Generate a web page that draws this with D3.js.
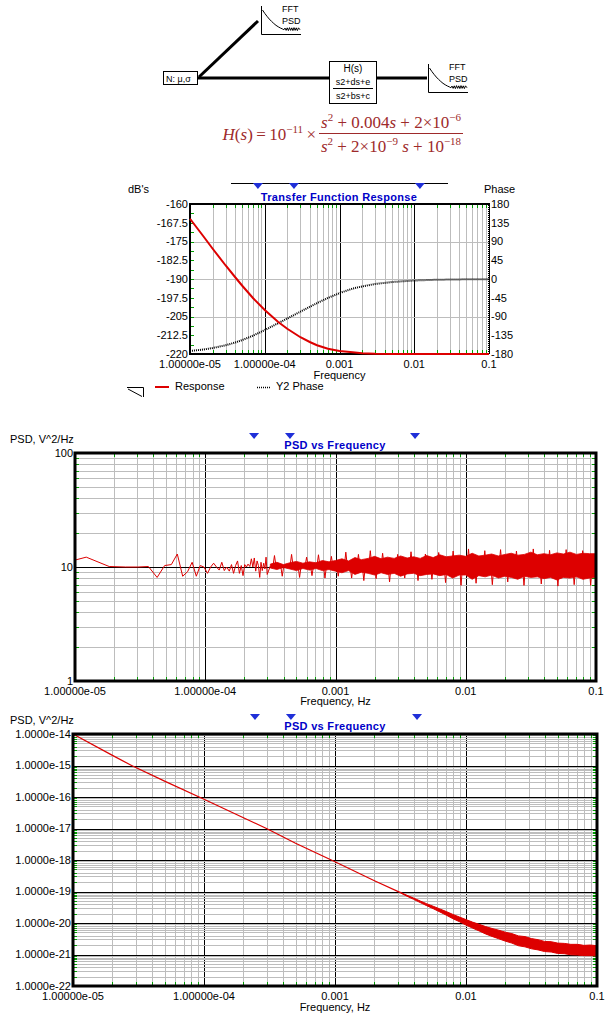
<!DOCTYPE html>
<html>
<head>
<meta charset="utf-8">
<script src="https://cdn.jsdelivr.net/npm/d3@7"></script>
<style>
body { margin: 0; background: #fff; }
svg text { font-family: "Liberation Sans", Arial, sans-serif; }
</style>
</head>
<body>
<svg id="chart" width="611" height="1018"></svg>
<script>
// ---------- data ----------
// transfer function response (top chart)
const tfFreq = [1e-5, 1.5e-5, 2e-5, 3e-5, 4e-5, 5e-5, 7e-5, 1e-4, 1.5e-4, 2e-4, 3e-4, 4e-4,
                5e-4, 7e-4, 1e-3, 1.5e-3, 2e-3, 3e-3, 5e-3, 1e-2, 2e-2, 5e-2, 1e-1];
const tfResponseDb = [-165.9, -172.8, -177.8, -184.6, -189.2, -192.7, -197.7, -202.4, -207.1, -209.9,
                      -213.3, -215.2, -216.5, -217.9, -218.8, -219.3, -219.7, -219.9, -220, -220, -220, -220, -220];
const tfPhaseDeg = [-172.8, -169.3, -165.8, -159.0, -152.6, -146.5, -135.8, -122.6, -106.4, -94.8,
                    -78.4, -66.8, -57.9, -45.4, -33.8, -23.0, -17.9, -12.0, -7.3, -3.6, -1.8, -0.7, -0.4];
const tfCursorFreq = [8.1e-5, 2.46e-4, 1.19e-2];
const dbTicks = [-160, -167.5, -175, -182.5, -190, -197.5, -205, -212.5, -220];
const phaseTicks = [180, 135, 90, 45, 0, -45, -90, -135, -180];

const freqTicks = [1e-5, 1e-4, 1e-3, 1e-2, 1e-1];
const freqTickLabels = ["1.00000e-05", "1.00000e-04", "0.001", "0.01", "0.1"];

// input noise PSD (middle chart)
const psdInFreq = [1.00e-5, 1.22e-5, 1.83e-5, 2.44e-5, 3.05e-5, 3.66e-5, 4.27e-5, 4.88e-5, 5.49e-5, 6.10e-5,
                   6.71e-5, 7.32e-5, 7.93e-5, 8.54e-5, 9.15e-5, 9.76e-5,
                   1.04e-4, 1.10e-4, 1.16e-4, 1.22e-4, 1.28e-4, 1.34e-4, 1.40e-4, 1.46e-4, 1.53e-4, 1.59e-4,
                   1.65e-4, 1.71e-4, 1.77e-4, 1.83e-4, 1.89e-4, 1.95e-4, 2.01e-4, 2.07e-4, 2.13e-4, 2.20e-4,
                   2.26e-4, 2.32e-4, 2.38e-4, 2.44e-4, 2.50e-4, 2.56e-4, 2.62e-4, 2.68e-4, 2.74e-4, 2.81e-4,
                   2.87e-4, 2.93e-4, 2.99e-4];
const psdInVal = [11.5, 12.2, 10.1, 10.0, 10.0, 10.1, 8.1, 10.3, 10.5, 13.0, 8.3, 9.1, 11.0, 8.3, 10.3, 10.0,
                  8.8, 10.0, 10.8, 10.0, 9.4, 11.0, 9.3, 10.0, 9.2, 10.5,
                  8.8, 10.3, 11.3, 8.8, 10.3, 8.4, 10.5, 10.0, 10.6, 10.1,
                  11.8, 10.0, 12.0, 9.2, 11.3, 10.3, 8.1, 11.0, 9.3, 10.8,
                  9.6, 12.2, 8.6];
const psdBandFreq = [3.16e-4, 3.55e-4, 3.98e-4, 4.47e-4, 5.01e-4, 5.62e-4, 6.31e-4, 7.08e-4, 7.94e-4, 8.91e-4,
                     1.0e-3, 1.12e-3, 1.26e-3, 1.41e-3, 1.58e-3, 1.78e-3, 2.0e-3, 2.24e-3, 2.51e-3, 2.82e-3,
                     3.16e-3, 3.55e-3, 3.98e-3, 4.47e-3, 5.01e-3, 5.62e-3, 6.31e-3, 7.08e-3, 7.94e-3, 8.91e-3,
                     1.0e-2, 1.12e-2, 1.26e-2, 1.41e-2, 1.58e-2, 1.78e-2, 2.0e-2, 2.24e-2, 2.51e-2, 2.82e-2,
                     3.16e-2, 3.55e-2, 3.98e-2, 4.47e-2, 5.01e-2, 5.62e-2, 6.31e-2, 7.08e-2, 7.94e-2, 8.91e-2,
                     1.0e-1];
const psdBandHi = [10.6, 11.0, 10.5, 10.9, 11.2, 10.8, 11.1, 10.9, 11.4, 11.1,
                   11.4, 11.8, 11.3, 12.1, 11.6, 11.9, 12.4, 11.8, 12.2, 11.9,
                   12.5, 12.0, 12.3, 11.9, 12.6, 12.1, 12.8, 12.3, 12.5, 12.7,
                   12.4, 13.2, 12.5, 12.7, 13.0, 12.5, 12.9, 13.2, 12.7, 12.9,
                   13.5, 12.8, 13.1, 12.8, 13.3, 13.0, 13.5, 12.9, 13.2, 13.1,
                   13.1];
const psdBandLo = [9.8, 9.5, 9.9, 9.6, 9.3, 9.7, 9.4, 9.7, 9.3, 9.5,
                   9.2, 8.9, 9.3, 8.6, 9.0, 8.8, 8.5, 8.9, 8.6, 8.8,
                   8.3, 8.7, 8.8, 8.4, 8.6, 8.7, 8.4, 8.6, 8.0, 8.5,
                   8.5, 7.8, 8.4, 8.2, 8.5, 8.0, 8.3, 8.1, 7.8, 8.3,
                   8.1, 8.2, 7.9, 8.1, 7.7, 8.1, 8.0, 8.2, 7.8, 8.0,
                   8.1];
const psdSpikeFreq = [3.4e-4, 3.9e-4, 4.6e-4, 5.3e-4, 6.0e-4, 6.6e-4, 7.4e-4, 8.3e-4, 9.3e-4,
                      1.05e-3, 1.2e-3, 1.33e-3, 1.5e-3, 1.65e-3, 1.85e-3, 2.05e-3, 2.3e-3, 2.6e-3, 3.0e-3,
                      3.4e-3, 3.8e-3, 4.3e-3, 4.9e-3, 5.5e-3, 6.2e-3, 7.0e-3, 8.0e-3, 9.2e-3,
                      1.05e-2, 1.2e-2, 1.4e-2, 1.6e-2, 1.85e-2, 2.1e-2, 2.45e-2, 2.8e-2, 3.3e-2, 3.8e-2,
                      4.4e-2, 5.1e-2, 5.9e-2, 6.8e-2, 7.9e-2, 9.1e-2];
const psdSpikeVal = [12.6, 8.3, 12.9, 8.1, 12.2, 8.4, 12.8, 8.0, 12.4,
                     8.3, 13.5, 8.0, 12.9, 7.6, 13.9, 7.9, 13.2, 7.4, 12.9,
                     8.0, 13.6, 7.6, 13.0, 7.8, 13.4, 7.3, 13.8, 6.9,
                     14.4, 7.2, 13.9, 7.0, 14.2, 7.4, 13.8, 6.9, 14.4, 7.1,
                     14.0, 6.8, 14.2, 7.0, 13.9, 6.9];
const psdInCursorFreq = [2.37e-4, 4.47e-4, 4.08e-3];
const psdInTicks = [100, 10, 1];
const psdInTickLabels = ["100", "10", "1"];

// filtered output PSD (bottom chart)
const psdOutFreq = [1e-5, 2e-5, 2.8e-5, 5e-5, 1e-4, 2e-4, 3e-4, 5e-4, 1e-3, 2e-3, 3.16e-3];
const psdOutVal = [1e-14, 2.1e-15, 1e-15, 3.2e-16, 8.5e-17, 2.2e-17, 1e-17, 3.4e-18, 8.8e-19, 2.2e-19, 9.2e-20];
const psdOutBandFreq = [3.16e-3, 3.55e-3, 3.98e-3, 4.47e-3, 5.01e-3, 5.62e-3, 6.31e-3, 7.08e-3, 7.94e-3, 8.91e-3,
                        1.0e-2, 1.12e-2, 1.26e-2, 1.41e-2, 1.58e-2, 1.78e-2, 2.0e-2, 2.24e-2, 2.51e-2, 2.82e-2,
                        3.16e-2, 3.55e-2, 3.98e-2, 4.47e-2, 5.01e-2, 5.62e-2, 6.31e-2, 7.08e-2, 7.94e-2, 8.91e-2,
                        1.0e-1];
const psdOutHi = [9.4e-20, 7.55e-20, 6.2e-20, 5.0e-20, 4.1e-20, 3.4e-20, 2.8e-20, 2.3e-20, 1.87e-20, 1.55e-20,
                  1.28e-20, 1.07e-20, 9.1e-21, 7.7e-21, 6.7e-21, 5.9e-21, 5.1e-21, 4.6e-21, 3.9e-21, 3.7e-21,
                  3.2e-21, 2.95e-21, 2.6e-21, 2.55e-21, 2.3e-21, 2.25e-21, 2.1e-21, 2.1e-21, 1.95e-21, 2.0e-21,
                  1.9e-21];
const psdOutLo = [9.0e-20, 7.05e-20, 5.65e-20, 4.45e-20, 3.55e-20, 2.85e-20, 2.25e-20, 1.77e-20, 1.37e-20, 1.1e-20,
                  8.6e-21, 6.9e-21, 5.6e-21, 4.5e-21, 3.75e-21, 3.15e-21, 2.65e-21, 2.3e-21, 1.9e-21, 1.75e-21,
                  1.52e-21, 1.4e-21, 1.24e-21, 1.2e-21, 1.08e-21, 1.06e-21, 0.98e-21, 0.96e-21, 0.92e-21, 0.92e-21,
                  0.89e-21];
const psdOutCursorFreq = [2.45e-4, 4.61e-4, 4.23e-3];
const psdOutTicks = [1e-14, 1e-15, 1e-16, 1e-17, 1e-18, 1e-19, 1e-20, 1e-21, 1e-22];
const psdOutTickLabels = ["1.0000e-14", "1.0000e-15", "1.0000e-16", "1.0000e-17", "1.0000e-18",
                          "1.0000e-19", "1.0000e-20", "1.0000e-21", "1.0000e-22"];

// little FFT-PSD glyph in the block diagram
const iconT = [0, 0.06, 0.12, 0.18, 0.24, 0.30, 0.36, 0.42, 0.48, 0.53, 0.57, 0.6, 0.63, 0.66, 0.69, 0.72,
               0.75, 0.78, 0.81, 0.84, 0.87, 0.9, 0.93, 0.96, 1.0];
const iconV = [1.0, 0.84, 0.7, 0.57, 0.46, 0.36, 0.27, 0.2, 0.14, 0.1, 0.06, 0.14, 0.03, 0.15, 0.02, 0.16,
               0.03, 0.15, 0.02, 0.16, 0.03, 0.15, 0.02, 0.15, 0.06];

// ---------- drawing ----------
const RED = "#dd0000", GRAY = "#bdbdbd", GREEN = "#00a000", BLUE = "#1f2fd8", TBLUE = "#0000c8";
const svg = d3.select("#chart");
svg.append("rect").attr("width", 611).attr("height", 1018).attr("fill", "#fff");

function isDecade(v) { const l = Math.log10(v); return Math.abs(l - Math.round(l)) < 1e-6; }
function px(v) { return Math.round(v) + 0.5; }

function vLogGrid(g, x, b) {
    const t = x.ticks();
    g.selectAll(null).data(t.filter(d => !isDecade(d))).enter()
        .append("line")
            .attr("x1", d => px(x(d))).attr("x2", d => px(x(d)))
            .attr("y1", b.top).attr("y2", b.bottom)
            .attr("stroke", GRAY);
    g.selectAll(null).data(t.filter(d => isDecade(d))).enter()
        .append("line")
            .attr("x1", d => px(x(d))).attr("x2", d => px(x(d)))
            .attr("y1", b.top).attr("y2", b.bottom)
            .attr("stroke", "#000");
}
function hLogGrid(g, y, b) {
    const t = y.ticks();
    g.selectAll(null).data(t.filter(d => !isDecade(d))).enter()
        .append("line")
            .attr("y1", d => px(y(d))).attr("y2", d => px(y(d)))
            .attr("x1", b.left).attr("x2", b.right)
            .attr("stroke", GRAY);
    g.selectAll(null).data(t.filter(d => isDecade(d))).enter()
        .append("line")
            .attr("y1", d => px(y(d))).attr("y2", d => px(y(d)))
            .attr("x1", b.left).attr("x2", b.right)
            .attr("stroke", "#000");
}
function greenX(g, x, b) {
    const t = x.ticks().filter(d => !isDecade(d));
    [[b.top, 4], [b.bottom, -4]].forEach(([y0, l]) => {
        g.selectAll(null).data(t).enter()
            .append("line")
                .attr("x1", d => px(x(d))).attr("x2", d => px(x(d)))
                .attr("y1", y0).attr("y2", y0 + l)
                .attr("stroke", GREEN);
    });
}
function greenY(g, vals, y, b, sides) {
    sides.forEach(([x0, l]) => {
        g.selectAll(null).data(vals).enter()
            .append("line")
                .attr("y1", d => px(y(d))).attr("y2", d => px(y(d)))
                .attr("x1", x0).attr("x2", x0 + l)
                .attr("stroke", GREEN);
    });
}
function cursors(g, x, freqs, top) {
    g.selectAll(null).data(freqs).enter()
        .append("path")
            .attr("d", d => `M${x(d) - 5},${top} L${x(d) + 5},${top} L${x(d)},${top + 6} Z`)
            .attr("fill", BLUE);
}
function xLabels(g, x, y0, label, labelY) {
    g.selectAll(null).data(freqTicks).enter()
        .append("text")
            .attr("x", d => x(d)).attr("y", y0)
            .attr("text-anchor", "middle").attr("font-size", 11)
            .text((d, i) => freqTickLabels[i]);
    g.append("text").attr("x", (x.range()[0] + x.range()[1]) / 2).attr("y", labelY)
        .attr("text-anchor", "middle").attr("font-size", 11).text(label);
}
function title(g, cx, y, txt) {
    g.append("text").attr("x", cx).attr("y", y).attr("text-anchor", "middle")
        .attr("font-size", 11).attr("font-weight", "bold").attr("fill", TBLUE)
        .attr("letter-spacing", 0.3).text(txt);
}

// ---- block diagram ----
const dg = svg.append("g");
dg.append("line").attr("x1", 198).attr("y1", 78).attr("x2", 330).attr("y2", 78).attr("stroke", "#000").attr("stroke-width", 3);
dg.append("line").attr("x1", 376).attr("y1", 78).attr("x2", 427).attr("y2", 78).attr("stroke", "#000").attr("stroke-width", 3);
dg.append("line").attr("x1", 199).attr("y1", 77).attr("x2", 258).attr("y2", 21).attr("stroke", "#000").attr("stroke-width", 3);
dg.append("rect").attr("x", 163.5).attr("y", 71.5).attr("width", 34).attr("height", 13)
    .attr("fill", "#fff").attr("stroke", "#000");
dg.append("text").attr("x", 166).attr("y", 81.5).attr("font-size", 9).text("N: μ,σ");
dg.append("rect").attr("x", 329.5).attr("y", 61.5).attr("width", 47).attr("height", 42)
    .attr("fill", "#fff").attr("stroke", "#000");
dg.append("text").attr("x", 353).attr("y", 72).attr("text-anchor", "middle").attr("font-size", 10).text("H(s)");
dg.append("text").attr("x", 353).attr("y", 85).attr("text-anchor", "middle").attr("font-size", 9).text("s2+ds+e");
dg.append("line").attr("x1", 333).attr("x2", 373).attr("y1", 88.5).attr("y2", 88.5).attr("stroke", "#000");
dg.append("text").attr("x", 353).attr("y", 99).attr("text-anchor", "middle").attr("font-size", 9).text("s2+bs+c");

function drawIcon(ox, oy) {
    const ix = d3.scaleLinear().domain([0, 1]).range([ox + 1.5, ox + 39]);
    const iy = d3.scaleLinear().domain([0, 1]).range([oy + 25, oy + 4]);
    dg.append("path").attr("d", `M${ox + 0.5},${oy} V${oy + 28.5} H${ox + 40}`)
        .attr("fill", "none").attr("stroke", "#000");
    dg.append("path").datum(iconT)
        .attr("d", d3.line().x(d => ix(d)).y((d, i) => iy(iconV[i])))
        .attr("fill", "none").attr("stroke", "#000").attr("stroke-width", 1);
    dg.append("text").attr("x", ox + 21).attr("y", oy + 6).attr("font-size", 9).text("FFT");
    dg.append("text").attr("x", ox + 21).attr("y", oy + 18).attr("font-size", 9).text("PSD");
}
drawIcon(261, 6);
drawIcon(428, 64);

// ---- formula ----
const FORM = "#9e2a2b";
const fg = svg.append("g").attr("fill", FORM).attr("font-size", 17)
    .style("font-family", "'Liberation Serif','Times New Roman',serif");
const lhs = fg.append("text").attr("x", 316).attr("y", 140).attr("text-anchor", "end")
    .style("font-family", "'Liberation Serif','Times New Roman',serif");
lhs.append("tspan").attr("font-style", "italic").text("H");
lhs.append("tspan").text("(");
lhs.append("tspan").attr("font-style", "italic").text("s");
lhs.append("tspan").text(")\u2009=\u200910");
lhs.append("tspan").attr("font-size", 11).attr("dy", -7).text("\u221211");
lhs.append("tspan").attr("dy", 7).text("\u2009\u00d7");
const num = fg.append("text").attr("x", 391).attr("y", 128).attr("text-anchor", "middle")
    .style("font-family", "'Liberation Serif','Times New Roman',serif");
num.append("tspan").attr("font-style", "italic").text("s");
num.append("tspan").attr("font-size", 11).attr("dy", -7).text("2");
num.append("tspan").attr("dy", 7).text(" + 0.004");
num.append("tspan").attr("font-style", "italic").text("s");
num.append("tspan").text(" + 2\u00d710");
num.append("tspan").attr("font-size", 11).attr("dy", -7).text("\u22126");
const den = fg.append("text").attr("x", 391).attr("y", 152).attr("text-anchor", "middle")
    .style("font-family", "'Liberation Serif','Times New Roman',serif");
den.append("tspan").attr("font-style", "italic").text("s");
den.append("tspan").attr("font-size", 11).attr("dy", -7).text("2");
den.append("tspan").attr("dy", 7).text(" + 2\u00d710");
den.append("tspan").attr("font-size", 11).attr("dy", -7).text("\u22129");
den.append("tspan").attr("dy", 7).text(" ");
den.append("tspan").attr("font-style", "italic").text("s");
den.append("tspan").text(" + 10");
den.append("tspan").attr("font-size", 11).attr("dy", -7).text("\u221218");
fg.append("line").attr("x1", 319).attr("x2", 463).attr("y1", 133.5).attr("y2", 133.5)
    .attr("stroke", FORM).attr("stroke-width", 1);

// ---- top chart: transfer function response ----
const tb = {left: 190, right: 489, top: 204, bottom: 354};
const tg = svg.append("g");
const tx = d3.scaleLog().domain([1e-5, 0.1]).range([tb.left, tb.right]);
const tyDb = d3.scaleLinear().domain([-220, -160]).range([tb.bottom, tb.top]);
const tyPh = d3.scaleLinear().domain([-180, 180]).range([tb.bottom, tb.top]);

vLogGrid(tg, tx, tb);
tg.selectAll(null).data(dbTicks.filter((d, i) => i % 2 === 0 && i > 0 && i < dbTicks.length - 1)).enter()
    .append("line")
        .attr("y1", d => px(tyDb(d))).attr("y2", d => px(tyDb(d)))
        .attr("x1", tb.left).attr("x2", tb.right).attr("stroke", GRAY);
greenX(tg, tx, tb);
greenY(tg, d3.range(-220, -159, 3.75), tyDb, tb, [[tb.left, 4]]);

tg.append("path").datum(tfFreq)
    .attr("d", d3.line().x(d => tx(d)).y((d, i) => tyPh(tfPhaseDeg[i])))
    .attr("fill", "none").attr("stroke", "#000").attr("stroke-width", 2).attr("stroke-dasharray", "1,1");

// frame (right edge is the dotted phase axis)
tg.append("path").attr("d", `M${tb.right},${tb.top} H${tb.left} V${tb.bottom} H${tb.right}`)
    .attr("fill", "none").attr("stroke", "#000").attr("stroke-width", 2);
tg.append("line").attr("x1", tb.right).attr("x2", tb.right).attr("y1", tb.top - 1).attr("y2", tb.bottom + 1)
    .attr("stroke", "#000").attr("stroke-width", 2).attr("stroke-dasharray", "1,1");

tg.append("path").datum(tfFreq)
    .attr("d", d3.line().x(d => tx(d)).y((d, i) => tyDb(tfResponseDb[i])))
    .attr("fill", "none").attr("stroke", RED).attr("stroke-width", 2);

tg.selectAll(null).data(dbTicks).enter()
    .append("text")
        .attr("x", tb.left - 2).attr("y", d => tyDb(d)).attr("dy", "0.35em")
        .attr("text-anchor", "end").attr("font-size", 11)
        .text(d => d);
tg.selectAll(null).data(phaseTicks).enter()
    .append("text")
        .attr("x", tb.right + 2).attr("y", d => tyPh(d)).attr("dy", "0.35em")
        .attr("font-size", 11)
        .text(d => d);
tg.append("text").attr("x", 128).attr("y", 193).attr("font-size", 11).text("dB's");
tg.append("text").attr("x", 484).attr("y", 193).attr("font-size", 11).text("Phase");
tg.append("line").attr("x1", 231).attr("x2", 448).attr("y1", 183.5).attr("y2", 183.5).attr("stroke", "#000");
cursors(tg, tx, tfCursorFreq, 183);
title(tg, 339, 201, "Transfer Function Response");
xLabels(tg, tx, 368, "Frequency", 379);

// legend
tg.append("path").attr("d", "M127,387.5 H143.5 V397 M128,389 L142,396.5").attr("fill", "none").attr("stroke", "#000");
tg.append("line").attr("x1", 155).attr("x2", 169).attr("y1", 387).attr("y2", 387).attr("stroke", RED).attr("stroke-width", 2);
tg.append("text").attr("x", 175).attr("y", 390).attr("font-size", 11).text("Response");
tg.append("line").attr("x1", 257).attr("x2", 270).attr("y1", 387.5).attr("y2", 387.5)
    .attr("stroke", "#000").attr("stroke-width", 1.5).attr("stroke-dasharray", "1,1");
tg.append("text").attr("x", 276).attr("y", 390).attr("font-size", 11).text("Y2 Phase");

// ---- middle chart: input PSD ----
const mb = {left: 75, right: 596, top: 453, bottom: 681};
const mg = svg.append("g");
const mx = d3.scaleLog().domain([1e-5, 0.1]).range([mb.left, mb.right]);
const my = d3.scaleLog().domain([1, 100]).range([mb.bottom, mb.top]);
vLogGrid(mg, mx, mb);
hLogGrid(mg, my, mb);
greenX(mg, mx, mb);
greenY(mg, my.ticks().filter(d => !isDecade(d)), my, mb, [[mb.left, 4], [mb.right, -4]]);

mg.append("path").datum(psdBandFreq)
    .attr("d", d3.area().x(d => mx(d)).y0((d, i) => my(psdBandLo[i])).y1((d, i) => my(psdBandHi[i])))
    .attr("fill", RED).attr("stroke", RED).attr("stroke-width", 0.8);
mg.selectAll(null).data(psdSpikeFreq).enter()
    .append("path")
        .attr("d", (d, i) => `M${mx(d) - 1.5},${my(10.2)} L${mx(d)},${my(psdSpikeVal[i])} L${mx(d) + 1.5},${my(10.2)}`)
        .attr("fill", "none").attr("stroke", RED).attr("stroke-width", 1);
mg.append("path").datum(psdInFreq.concat([psdBandFreq[0]]))
    .attr("d", d3.line().x(d => mx(d)).y((d, i) => my(i < psdInVal.length ? psdInVal[i] : 10.2)))
    .attr("fill", "none").attr("stroke", RED).attr("stroke-width", 1);

mg.append("rect").attr("x", mb.left).attr("y", mb.top).attr("width", mb.right - mb.left).attr("height", mb.bottom - mb.top)
    .attr("fill", "none").attr("stroke", "#000").attr("stroke-width", 3);
mg.selectAll(null).data(psdInTicks).enter()
    .append("text")
        .attr("x", mb.left - 2).attr("y", d => my(d)).attr("dy", "0.35em")
        .attr("text-anchor", "end").attr("font-size", 11)
        .text((d, i) => psdInTickLabels[i]);
mg.append("text").attr("x", 10).attr("y", 443).attr("font-size", 11).text("PSD, V^2/Hz");
cursors(mg, mx, psdInCursorFreq, 433);
title(mg, 335, 449, "PSD vs Frequency");
xLabels(mg, mx, 695, "Frequency, Hz", 705);

// ---- bottom chart: output PSD ----
const bb = {left: 73, right: 597, top: 734, bottom: 986};
const bg = svg.append("g");
const bx = d3.scaleLog().domain([1e-5, 0.1]).range([bb.left, bb.right]);
const by = d3.scaleLog().domain([1e-22, 1e-14]).range([bb.bottom, bb.top]);
vLogGrid(bg, bx, bb);
hLogGrid(bg, by, bb);
greenX(bg, bx, bb);
greenY(bg, by.ticks().filter(d => !isDecade(d)), by, bb, [[bb.left, 4], [bb.right, -4]]);

bg.append("path").datum(psdOutFreq)
    .attr("d", d3.line().x(d => bx(d)).y((d, i) => by(psdOutVal[i])))
    .attr("fill", "none").attr("stroke", RED).attr("stroke-width", 1.2);
bg.append("path").datum(psdOutBandFreq)
    .attr("d", d3.area().x(d => bx(d)).y0((d, i) => by(psdOutLo[i])).y1((d, i) => by(psdOutHi[i])))
    .attr("fill", RED).attr("stroke", RED).attr("stroke-width", 1);

bg.append("rect").attr("x", bb.left).attr("y", bb.top).attr("width", bb.right - bb.left).attr("height", bb.bottom - bb.top)
    .attr("fill", "none").attr("stroke", "#000").attr("stroke-width", 3);
bg.selectAll(null).data(psdOutTicks).enter()
    .append("text")
        .attr("x", bb.left - 2).attr("y", d => by(d)).attr("dy", "0.35em")
        .attr("text-anchor", "end").attr("font-size", 11)
        .text((d, i) => psdOutTickLabels[i]);
bg.append("text").attr("x", 10).attr("y", 724).attr("font-size", 11).text("PSD, V^2/Hz");
cursors(bg, bx, psdOutCursorFreq, 714);
title(bg, 335, 730, "PSD vs Frequency");
xLabels(bg, bx, 1000, "Frequency, Hz", 1011);
</script>
</body>
</html>
